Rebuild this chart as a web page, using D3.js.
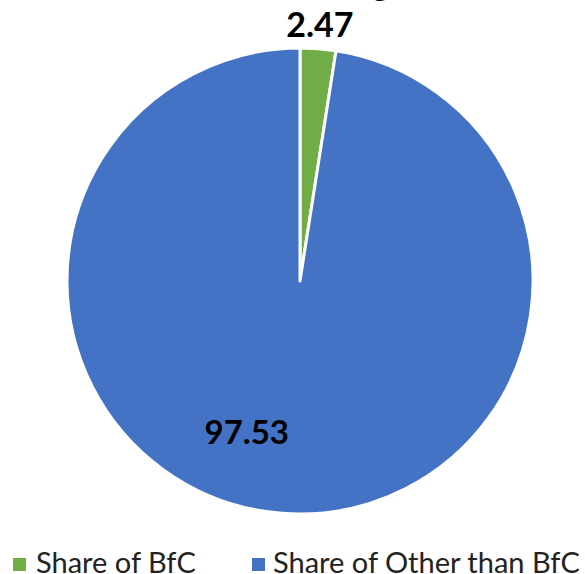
<!DOCTYPE html>
<html>
<head>
<meta charset="utf-8">
<script src="https://cdn.jsdelivr.net/npm/d3@7"></script>
<style>
  body { margin: 0; background: #fff; }
  text { font-family: Lato, "Liberation Sans", Arial, sans-serif; }
</style>
</head>
<body>
<script>
const categories = ['Share of BfC', 'Share of Other than BfC'];
const values = [2.47, 97.53];
const colors = ['#70AD47', '#4472C4'];
const titleText = 'Share of Funding';

const width = 585, height = 574;
const cx = 300, cy = 281, r = 233;

const svg = d3.select('body').append('svg')
    .attr('width', width)
    .attr('height', height);

// title mostly off the top, only a descender peeks in
svg.append('text')
    .attr('x', 388)
    .attr('y', -4)
    .attr('text-anchor', 'end')
    .style('font-size', '30px')
    .style('font-weight', 'bold')
    .text(titleText);

let pie = d3.pie().sort(null).value((d) => d);
let arcs = pie(values);
let arc = d3.arc().innerRadius(0).outerRadius(r);

let g = svg.append('g')
    .attr('transform', 'translate(' + cx + ',' + cy + ')');

g.selectAll('.slice')
    .data(arcs)
    .enter()
    .append('path')
    .attr('class', 'slice')
    .attr('d', arc)
    .attr('fill', (d, i) => colors[i])
    .attr('stroke', '#fff')
    .attr('stroke-width', 3)
    .attr('stroke-linejoin', 'round');

// data labels: small slice outside, big slice inside (nudged like excel does)
function labelPos(d, i) {
    let mid = (d.startAngle + d.endAngle) / 2;
    if (i === 0) return d3.pointRadial(mid, r + 24);
    return d3.pointRadial(mid + 0.26, r * 0.69);
}

g.selectAll('.label')
    .data(arcs)
    .enter()
    .append('text')
    .attr('class', 'label')
    .attr('transform', (d, i) => 'translate(' + labelPos(d, i) + ')')
    .attr('text-anchor', 'middle')
    .attr('dy', '0.35em')
    .style('font-size', (d, i) => i === 0 ? '34px' : '33px')
    .style('font-weight', 'bold')
    .text((d) => d.data.toFixed(2));

// legend
let legendX = [13, 252];
let legend = svg.selectAll('.legend')
    .data(categories)
    .enter()
    .append('g')
    .attr('class', 'legend')
    .attr('transform', (d, i) => 'translate(' + legendX[i] + ',558)');

legend.append('rect')
    .attr('width', 13)
    .attr('height', 13)
    .attr('fill', (d, i) => colors[i]);

legend.append('text')
    .attr('x', (d, i) => i === 0 ? 23 : 21)
    .attr('y', 15)
    .style('font-size', '29px')
    .style('fill', '#222')
    .text((d) => d);
</script>
</body>
</html>
